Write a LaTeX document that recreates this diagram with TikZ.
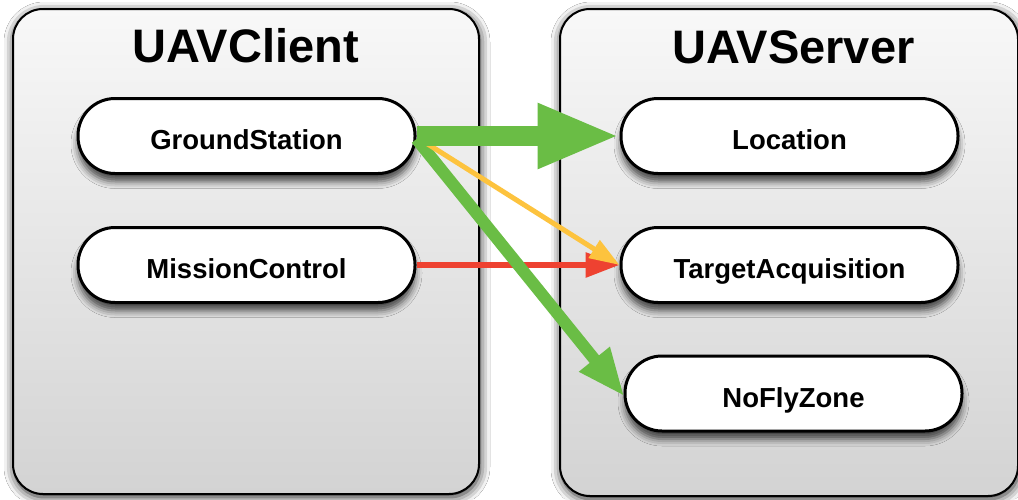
\documentclass[tikz,border=0pt]{standalone}
\usepackage{fontspec}
\setmainfont{Liberation Sans}
\usetikzlibrary{arrows.meta,shadows.blur}
\definecolor{arrowgreen}{HTML}{6ABD45}
\definecolor{arrowyellow}{HTML}{FDC33E}
\definecolor{arrowred}{HTML}{EE4231}
\definecolor{boxtop}{HTML}{F8F8F8}
\definecolor{boxbottom}{HTML}{D3D3D3}
\tikzset{
  container/.style={draw=black, line width=2pt, rounded corners=30pt,
    top color=boxtop, bottom color=boxbottom,
    blur shadow={shadow xshift=1pt, shadow yshift=-3pt, shadow blur radius=10pt, shadow opacity=90}},
  title/.style={anchor=base, font=\fontsize{47}{50}\selectfont\bfseries, inner sep=0pt},
  component/.style={draw=black, fill=white, line width=3pt, minimum width=337pt, minimum height=75pt,
    rounded corners=37pt, inner sep=0pt, text height=27pt, text depth=0pt,
    font=\fontsize{27.5}{30}\selectfont\bfseries,
    blur shadow={shadow xshift=0pt, shadow yshift=-8pt, shadow blur radius=7pt, shadow opacity=70}},
  bigflow/.style={draw=arrowgreen, line width=20pt, -{Triangle[length=82pt, width=60pt]}},
  diagflow/.style={draw=arrowgreen, line width=12pt, -{Triangle[length=48pt, width=36pt]}},
  yellowflow/.style={draw=arrowyellow, line width=5pt, -{Triangle[length=30pt, width=20pt]}},
  redflow/.style={draw=arrowred, line width=6pt, -{Triangle[length=34pt, width=24pt]}},
}
\begin{document}
\begin{tikzpicture}[x=1pt, y=-1pt]
  \useasboundingbox (0,0) rectangle (1018,499);
  \fill[white] (0,0) rectangle (1018,499);

  % the two processes
  \node[container, minimum width=466pt, minimum height=485pt] (client) at (246,251.5) {};
  \node[container, minimum width=458pt, minimum height=487pt] (server) at (789,252.5) {};
  \node[title] (clienttitle) at (245.5,62) {UAVClient};
  \node[title] (servertitle) at (793.5,63) {UAVServer};

  % client components
  \node[component] (gs) at (246.5,136) {GroundStation};
  \node[component] (mc) at (246.5,265) {MissionControl};

  % server components
  \node[component] (loc) at (789.5,136) {Location};
  \node[component] (ta) at (789.5,265) {TargetAcquisition};
  \node[component] (nfz) at (793.5,393.5) {NoFlyZone};

  % calls between them
  \draw[redflow] (mc.east) -- (ta.west);
  \draw[diagflow] ([yshift=-3pt]gs.east) -- ([xshift=1pt,yshift=-3pt]nfz.west);
  \draw[yellowflow] ([xshift=8pt,yshift=-6pt]gs.east) -- (ta.west);
  \draw[bigflow] (gs.east) -- (loc.west);
\end{tikzpicture}
\end{document}
